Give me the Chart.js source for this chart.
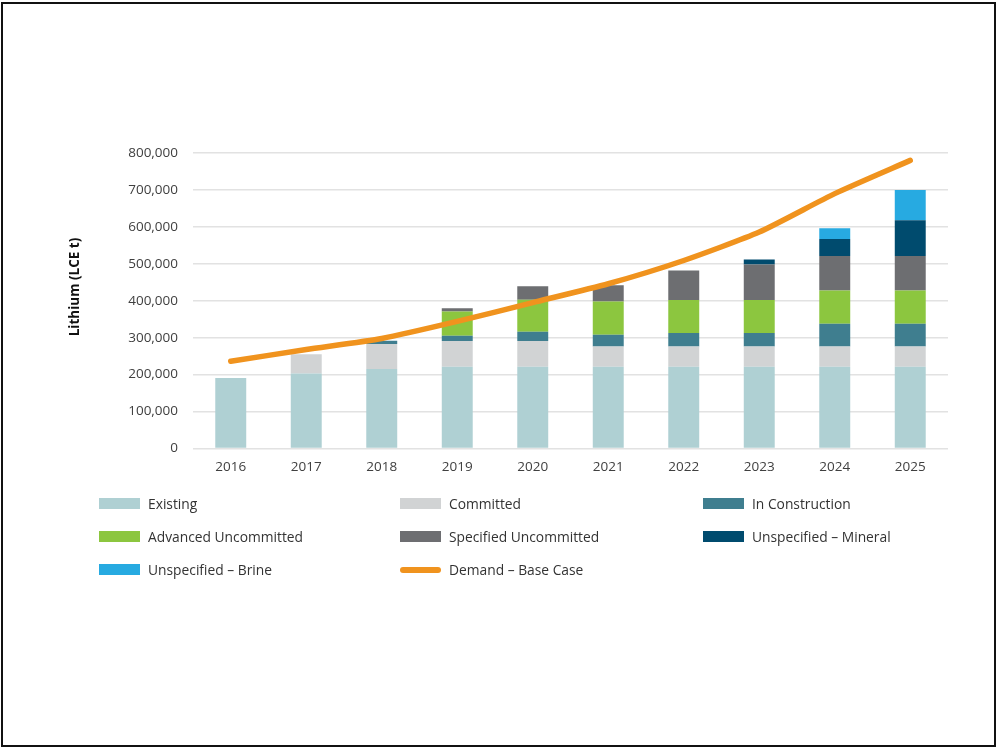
<!DOCTYPE html>
<html>
<head>
<meta charset="utf-8">
<script src="https://cdn.jsdelivr.net/npm/chart.js@4.4.0/dist/chart.umd.min.js"></script>
<style>
  html, body { margin: 0; padding: 0; background: #fff; }
  body { width: 997px; height: 749px; position: relative; overflow: hidden; font-family: "Open Sans", sans-serif; }
  #frame { position: absolute; left: 1px; top: 2px; width: 995px; height: 745px; box-sizing: border-box; border: 2px solid #111; pointer-events: none; }
  #wrap { position: absolute; left: 0; top: 0; width: 997px; height: 490px; }
  #legend { position: absolute; left: 0; top: 0; width: 997px; height: 749px; pointer-events: none; }
  .item { position: absolute; height: 20px; display: flex; align-items: center; font-size: 13.8px; color: #333; white-space: nowrap; }
  .sw { width: 41px; height: 11px; margin-right: 8px; flex: none; }
  .ln { width: 41px; height: 6px; border-radius: 3px; margin-right: 8px; flex: none; }
</style>
</head>
<body>
<div id="wrap"><canvas id="c" width="997" height="490"></canvas></div>
<div id="legend"></div>
<div id="frame"></div>
<script>
const years = ["2016","2017","2018","2019","2020","2021","2022","2023","2024","2025"];
const existing      = [191000, 203000, 215000, 221000, 221000, 221000, 221000, 221000, 221000, 221000];
const committed     = [0, 52000, 68000, 70000, 70000, 55000, 55000, 55000, 55000, 55000];
const inConstruction= [0, 0, 9000, 14000, 25000, 32000, 37000, 37000, 62000, 62000];
const advancedUnc   = [0, 0, 0, 66000, 87000, 90000, 89000, 89000, 90000, 90000];
const specifiedUnc  = [0, 0, 0, 9000, 36000, 44000, 80000, 96000, 93000, 93000];
const unspecMineral = [0, 0, 0, 0, 0, 0, 0, 14000, 46000, 97000];
const unspecBrine   = [0, 0, 0, 0, 0, 0, 0, 0, 29000, 82000];
const demandBase    = [236000, 268000, 298000, 344000, 395000, 446000, 509000, 586000, 690000, 780000];
const yTicks = [0, 100000, 200000, 300000, 400000, 500000, 600000, 700000, 800000];

const barSeries = [
  { label: "Existing", data: existing, color: "#AFD0D3" },
  { label: "Committed", data: committed, color: "#D1D3D4" },
  { label: "In Construction", data: inConstruction, color: "#3F7E8F" },
  { label: "Advanced Uncommitted", data: advancedUnc, color: "#8CC63F" },
  { label: "Specified Uncommitted", data: specifiedUnc, color: "#6D6E71" },
  { label: "Unspecified \u2013 Mineral", data: unspecMineral, color: "#004B6E" },
  { label: "Unspecified \u2013 Brine", data: unspecBrine, color: "#27AAE1" }
];
const lineSeries = { label: "Demand \u2013 Base Case", data: demandBase, color: "#F0931E" };

const datasets = barSeries.map(s => ({
  type: "bar", label: s.label, data: s.data, backgroundColor: s.color,
  borderWidth: 0, stack: "supply", order: 1,
  barPercentage: 0.41, categoryPercentage: 1.0
}));
datasets.push({
  type: "line", label: lineSeries.label, data: lineSeries.data,
  borderColor: lineSeries.color, backgroundColor: lineSeries.color,
  borderWidth: 5.5, pointRadius: 0, tension: 0.2,
  borderCapStyle: "round", borderJoinStyle: "round", order: 0
});

const yTitle = {
  id: "yTitle",
  afterDraw(chart) {
    const ctx = chart.ctx;
    ctx.save();
    ctx.translate(75, 287);
    ctx.rotate(-Math.PI / 2);
    ctx.font = "bold 13.5px 'Open Sans'";
    ctx.fillStyle = "#111";
    ctx.textAlign = "center";
    ctx.textBaseline = "middle";
    ctx.fillText("Lithium (LCE t)", 0, 0);
    ctx.restore();
  }
};

new Chart(document.getElementById("c"), {
  data: { labels: years, datasets },
  options: {
    responsive: false, animation: false, devicePixelRatio: 1,
    layout: { padding: { top: 153, right: 49, bottom: 0, left: 0 } },
    plugins: { legend: { display: false }, tooltip: { enabled: false } },
    scales: {
      x: {
        stacked: true,
        grid: { display: false, drawTicks: false },
        border: { display: false },
        ticks: { color: "#404040", font: { family: "Open Sans", size: 13.5 }, padding: 11 },
        afterFit(s) { s.height = 41.5; }
      },
      y: {
        stacked: true, min: 0, max: 800000,
        afterBuildTicks(s) { s.ticks = yTicks.map(v => ({ value: v })); },
        grid: { color: "#E2E2E2", lineWidth: 1.5, drawTicks: false },
        border: { display: false },
        ticks: {
          color: "#404040", font: { family: "Open Sans", size: 13.5 }, padding: 15,
          callback: v => v.toLocaleString("en-US")
        },
        afterFit(s) { s.width = 193; }
      }
    }
  },
  plugins: [yTitle]
});

// HTML legend in three columns
const legend = document.getElementById("legend");
const cols = [99, 400, 703];
const rows = [503.5, 536, 569.5];
const allItems = barSeries.map(s => ({ label: s.label, color: s.color, line: false }))
  .concat([{ label: lineSeries.label, color: lineSeries.color, line: true }]);
allItems.forEach((it, i) => {
  const d = document.createElement("div");
  d.className = "item";
  d.style.left = cols[i % 3] + "px";
  d.style.top = (rows[Math.floor(i / 3)] - 10) + "px";
  const sw = document.createElement("span");
  sw.className = it.line ? "ln" : "sw";
  sw.style.background = it.color;
  const t = document.createElement("span");
  t.textContent = it.label;
  d.appendChild(sw); d.appendChild(t);
  legend.appendChild(d);
});
</script>
</body>
</html>
